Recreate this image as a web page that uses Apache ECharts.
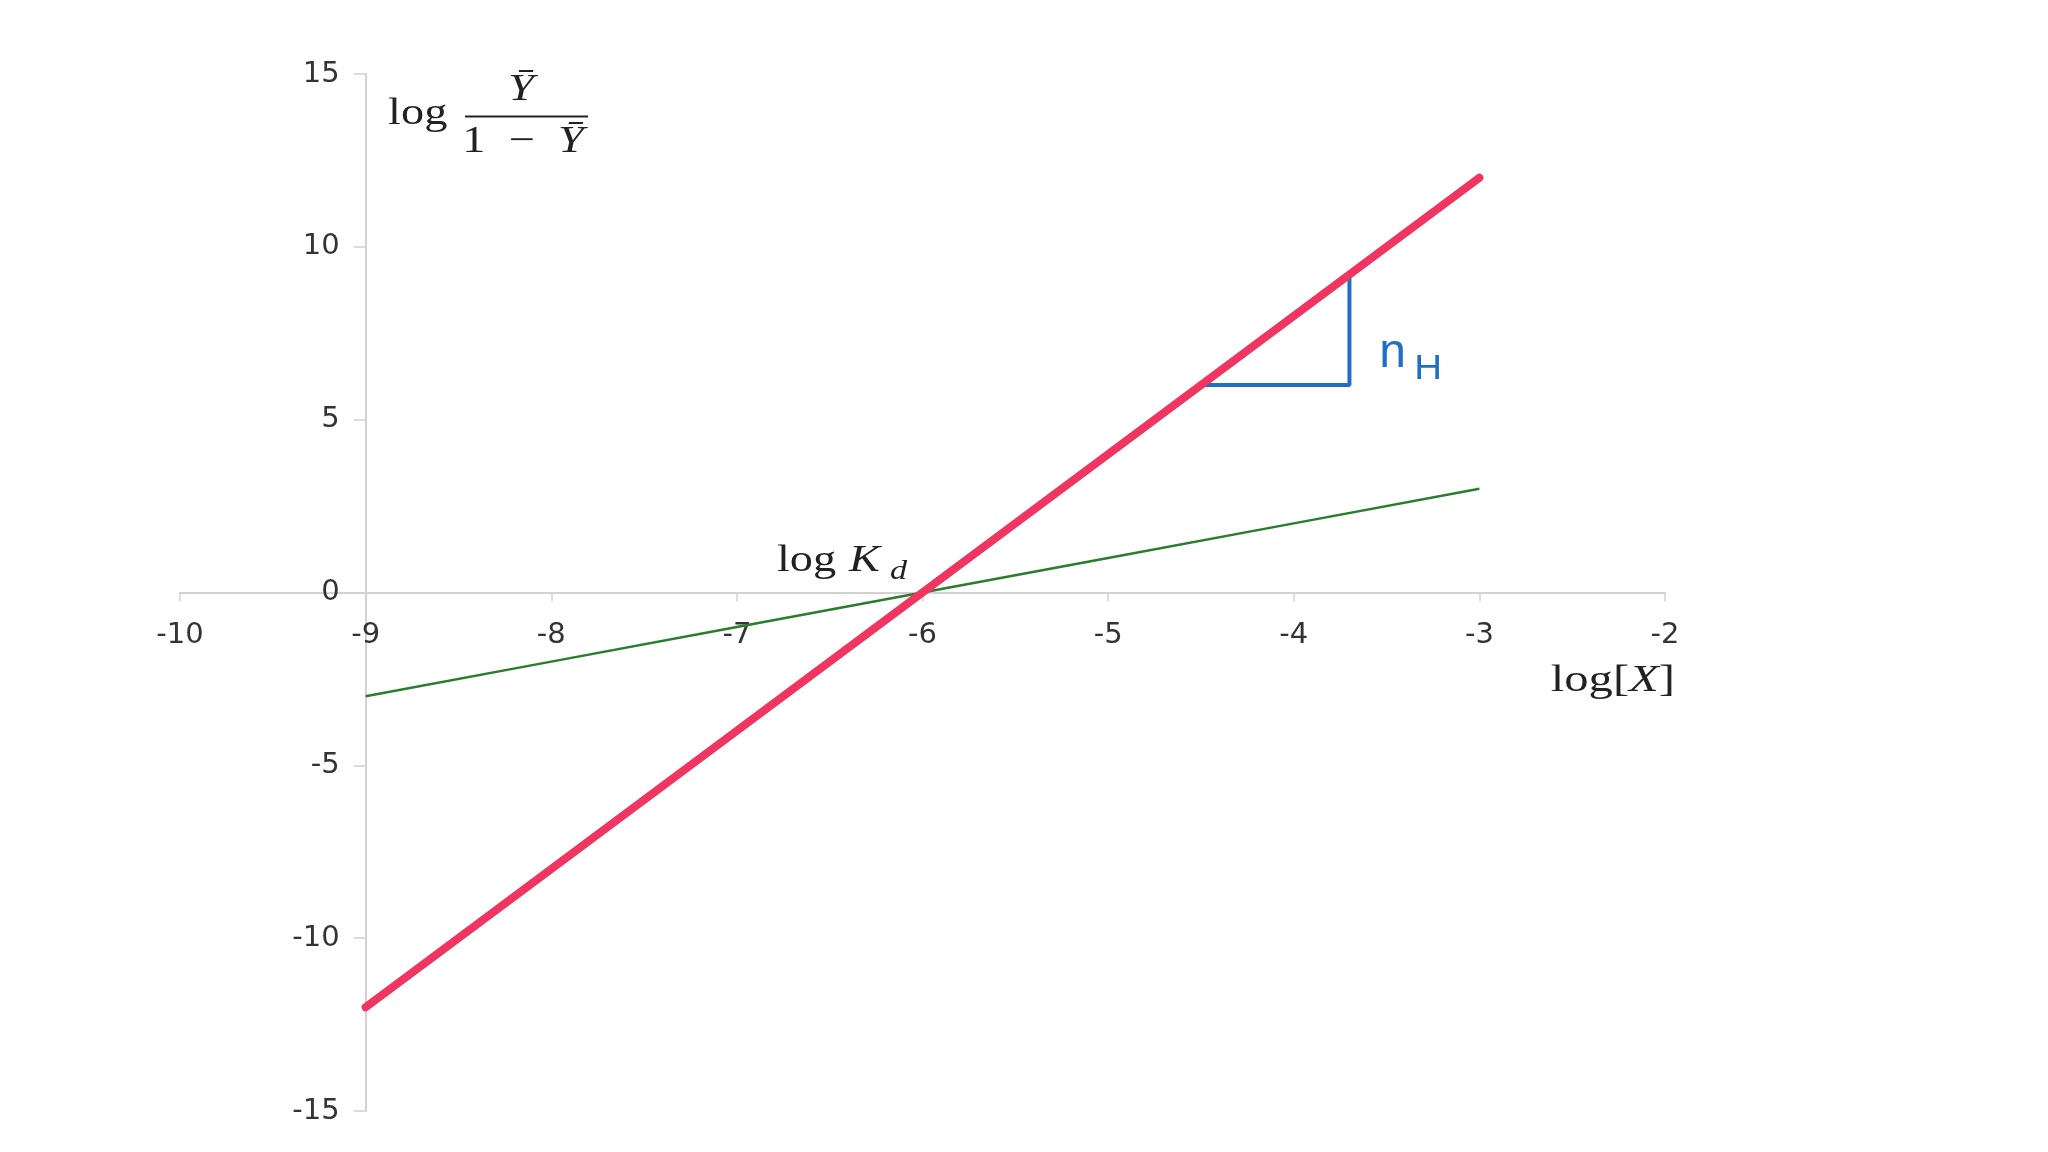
<!DOCTYPE html>
<html><head><meta charset="utf-8">
<script src="https://cdn.jsdelivr.net/npm/echarts@6/dist/echarts.min.js"></script>
<style>html,body{margin:0;padding:0;background:#fff}#c{width:2048px;height:1152px}</style>
</head><body><div id="c"></div>
<script>
// ---- data ----
const logX = [-9, -8, -7, -6, -5, -4, -3];
const cooperative = [-12, -8, -4, 0, 4, 8, 12];      // red, slope nH = 4
const noncooperative = [-3, -2, -1, 0, 1, 2, 3];     // green, slope 1
const slopeX = [-4.5, -3.7, -3.7];                   // blue slope triangle
const slopeY = [6, 6, 9.1];
const xTickLabels = [-10, -9, -8, -7, -6, -5, -4, -3, -2];
const yTickLabels = [-15, -10, -5, 0, 5, 10, 15];
// annotation anchors (data coordinates)
const anchorKd = [-6.784, 0.66];
const anchorXName = [-1.946, -2.82];
const anchorNH = [-3.54, 6.6];
const anchorYName = [-8.879, 13.6];

const SANS = '"DejaVu Sans", "Liberation Sans", sans-serif';
const NH_SANS = '"Liberation Sans", Arial, sans-serif';
const SERIF = '"Liberation Serif", "DejaVu Serif", serif';
const INK = '#222';
const BLUE = '#1f6fc9';
const STRETCH = 1.22;

const GRID = { left: 180, right: 383, top: 74, bottom: 41 };
const chart = echarts.init(document.getElementById('c'));
const pair = (xs, ys) => xs.map((x, i) => [x, ys[i]]);
const yMin = yTickLabels[0], yMax = yTickLabels[yTickLabels.length - 1];
const xMin = xTickLabels[0], xMax = xTickLabels[xTickLabels.length - 1];
const plotH = 1152 - GRID.top - GRID.bottom, plotW = 2048 - GRID.left - GRID.right;
// the x axis crosses at y = 0, the y axis at x = -9
const xAxisOffset = -plotH * (0 - yMin) / (yMax - yMin);
const yAxisOffset = -plotW * (-9 - xMin) / (xMax - xMin);

chart.setOption({
  animation: false,
  backgroundColor: '#fff',
  grid: Object.assign({ containLabel: false, outerBoundsMode: 'none' }, GRID),
  xAxis: {
    type: 'value', position: 'bottom',
    min: xMin, max: xMax, interval: 1,
    offset: xAxisOffset,
    axisLine: { onZero: false, lineStyle: { color: '#d2d2d2', width: 2 } },
    axisTick: { show: true, length: 9, lineStyle: { color: '#d2d2d2', width: 1.5 } },
    axisLabel: { color: '#333', fontFamily: SANS, fontSize: 29, margin: 28 },
    splitLine: { show: false }
  },
  yAxis: {
    type: 'value', position: 'left',
    min: yMin, max: yMax, interval: 5,
    offset: yAxisOffset,
    axisLine: { show: true, onZero: false, lineStyle: { color: '#d2d2d2', width: 2 } },
    axisTick: { show: true, length: 12, lineStyle: { color: '#d2d2d2', width: 1.5 } },
    axisLabel: { color: '#333', fontFamily: SANS, fontSize: 29, margin: 26 },
    splitLine: { show: false }
  },
  series: [
    { type: 'line', data: pair(logX, noncooperative), symbol: 'none', z: 3,
      lineStyle: { color: '#2a7d2a', width: 2.5 } },
    { type: 'line', data: pair(slopeX, slopeY), symbol: 'none', z: 4,
      lineStyle: { color: BLUE, width: 4 } },
    { type: 'line', data: pair(logX, cooperative), symbol: 'none', z: 5,
      lineStyle: { color: '#ef3560', width: 8, cap: 'round' } }
  ]
});

function P(pt) { return chart.convertToPixel({ gridIndex: 0 }, pt); }
// text placed by baseline
function T(x, baseline, text, size, opts) {
  opts = opts || {};
  return {
    type: 'text', x: x, y: baseline - 0.23 * size, z: 100,
    scaleX: opts.sx || 1,
    style: Object.assign({
      text: text, fill: opts.fill || INK,
      fontFamily: opts.family || SERIF, fontSize: size,
      fontStyle: opts.italic ? 'italic' : 'normal',
      fontWeight: opts.bold ? 'bold' : 'normal',
      align: opts.align || 'left', verticalAlign: 'middle'
    }, opts.rich ? { rich: opts.rich } : {})
  };
}

const kd = P(anchorKd), xn = P(anchorXName), nh = P(anchorNH), yn = P(anchorYName);
const richSerif = {
  r: { fontFamily: SERIF, fontSize: 38, fill: INK, color: INK },
  i: { fontFamily: SERIF, fontSize: 38, fontStyle: 'italic', fill: INK, color: INK }
};

const graphics = [
  // log K_d
  T(kd[0], kd[1], 'log', 38, { sx: STRETCH }),
  T(kd[0] + 72, kd[1], 'K', 38, { italic: true, sx: STRETCH }),
  T(kd[0] + 113, kd[1] + 8, 'd', 28, { italic: true, sx: STRETCH }),
  // log[X]
  T(xn[0], xn[1], '{r|log[}{i|X}{r|]}', 38, { align: 'right', rich: richSerif, sx: 1.28 }),
  // y-axis name: log Ybar/(1-Ybar)
  T(yn[0], yn[1], 'log', 38, { sx: STRETCH }),
  T(yn[0] + 133, yn[1] - 24, 'Ȳ', 38, { italic: true, align: 'center', sx: STRETCH }),
  { type: 'line', z: 100, shape: { x1: yn[0] + 77, y1: yn[1] - 6, x2: yn[0] + 200, y2: yn[1] - 6 },
    style: { stroke: INK, lineWidth: 2 } },
  T(yn[0] + 135, yn[1] + 28, '{r|1\u2002−\u2002}{i|Ȳ}', 38, { align: 'center', rich: richSerif, sx: STRETCH }),
  // n_H
  T(nh[0], nh[1], 'n', 48, { family: NH_SANS, fill: BLUE }),
  T(nh[0] + 35, nh[1] + 13, 'H', 35, { family: NH_SANS, fill: BLUE, sx: 1.1 })
];
chart.setOption({ graphic: graphics });
</script>
</body></html>
